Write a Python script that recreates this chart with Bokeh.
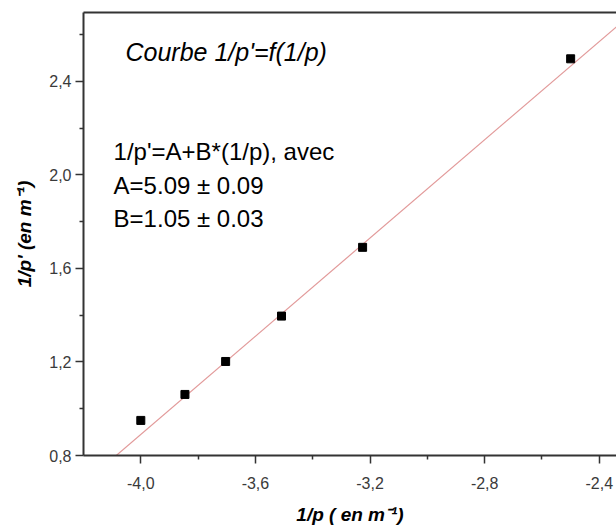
from bokeh.plotting import figure
from bokeh.models import (Range1d, FixedTicker, CustomJSTickFormatter, LinearAxis,
                          Label, ColumnDataSource)
from bokeh.embed import file_html
from bokeh.resources import INLINE

# ---- data ----
inv_p = [-4.0, -3.846, -3.704, -3.509, -3.226, -2.5]
inv_p_prime = [0.950, 1.061, 1.202, 1.396, 1.69, 2.496]
fit_A = 5.09
fit_B = 1.05
x_ticks = [-4.0, -3.6, -3.2, -2.8, -2.4]
x_minor = [-3.8, -3.4, -3.0, -2.6]
y_ticks = [0.8, 1.2, 1.6, 2.0, 2.4]
y_minor = [1.0, 1.4, 1.8, 2.2, 2.6]

x_lo, x_hi = -4.2, -2.34
y_lo, y_hi = 0.8, 2.694

FONT = "Liberation Sans"
AX = "#333333"

p = figure(width=616, height=527, x_range=Range1d(x_lo, x_hi), y_range=Range1d(y_lo, y_hi),
           output_backend="svg", toolbar_location=None, title=None,
           min_border_left=83, min_border_right=0, min_border_top=12, min_border_bottom=72)
p.xgrid.visible = False
p.ygrid.visible = False
p.outline_line_color = None
p.background_fill_color = "white"
p.border_fill_color = "white"

fmt = CustomJSTickFormatter(code="return tick.toFixed(1).replace('.', ',');")

for ax, ticks, minor in ((p.xaxis[0], x_ticks, x_minor), (p.yaxis[0], y_ticks, y_minor)):
    ax.ticker = FixedTicker(ticks=ticks, minor_ticks=minor)
    ax.formatter = fmt
    ax.axis_line_color = AX
    ax.axis_line_width = 2
    ax.major_tick_line_color = AX
    ax.major_tick_line_width = 1.5
    ax.minor_tick_line_color = AX
    ax.minor_tick_line_width = 1.5
    ax.major_tick_in = 0
    ax.major_tick_out = 8
    ax.minor_tick_in = 0
    ax.minor_tick_out = 4
    ax.major_label_text_font = FONT
    ax.major_label_text_font_size = "16px"
    ax.major_label_text_color = "#3a3a3a"
    ax.axis_label_text_font = FONT
    ax.axis_label_text_font_size = "19px"
    ax.axis_label_text_font_style = "bold italic"
    ax.axis_label_text_color = "black"

p.xaxis.axis_label = "1/p ( en m\u207b\u00b9)"
p.yaxis.axis_label = "1/p' (en m\u207b\u00b9)"
p.xaxis.major_label_standoff = 13
p.yaxis.major_label_standoff = 4
p.xaxis.axis_label_standoff = 12
p.yaxis.axis_label_standoff = 11

top = LinearAxis(ticker=FixedTicker(ticks=[]), major_label_text_font_size="0px",
                 major_tick_out=0, major_tick_in=0, minor_tick_out=0, minor_tick_in=0,
                 axis_line_color=AX, axis_line_width=2)
p.add_layout(top, "above")

# fit line
fx = [x_lo, x_hi]
fy = [fit_A + fit_B * v for v in fx]
p.line(fx, fy, line_color="#e29a9a", line_width=1.2)

src = ColumnDataSource(dict(x=inv_p, y=inv_p_prime))
p.scatter("x", "y", source=src, marker="square", size=8, fill_color="black", line_color="black")

p.add_layout(Label(x=-4.0535, y=2.525, text="Courbe 1/p'=f(1/p)", text_font=FONT,
                   text_font_size="25px", text_font_style="italic", text_color="black",
                   text_baseline="alphabetic"))
eq_lines = ["1/p'=A+B*(1/p), avec", "A=5.09 \u00b1 0.09", "B=1.05 \u00b1 0.03"]
for txt, yy in zip(eq_lines, [2.0997, 1.954, 1.813]):
    p.add_layout(Label(x=-4.095, y=yy, text=txt, text_font=FONT, text_font_size="24px",
                       text_color="black", text_baseline="alphabetic"))

open("out.html", "w").write(file_html(p, INLINE))
